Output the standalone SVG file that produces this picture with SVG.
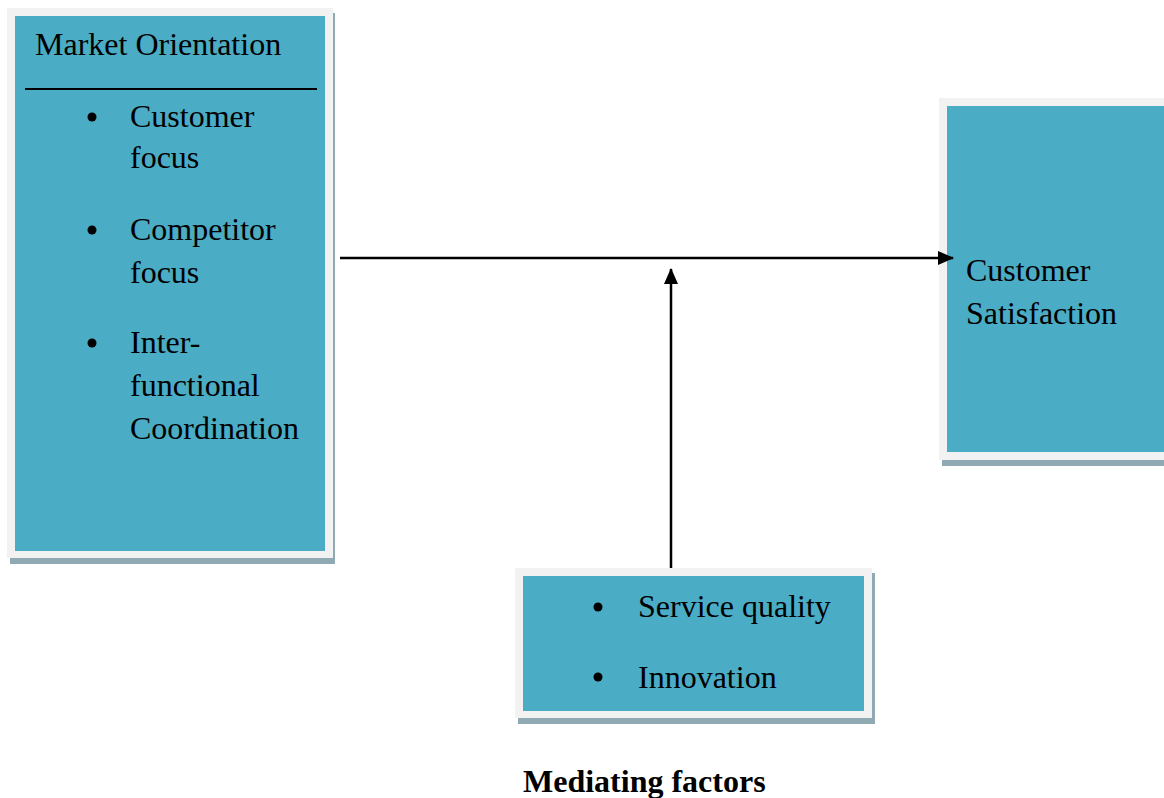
<svg xmlns="http://www.w3.org/2000/svg" width="1164" height="798" viewBox="0 0 1164 798">
<defs>
<style>
.shadow{fill:#8faab3}
.frame{fill:#f2f2f2}
.fill{fill:#4bacc6}
text{font-family:"Liberation Serif","Times New Roman",serif;font-size:32px;fill:#000}
.b{font-weight:bold}
.conn{stroke:#000;stroke-width:2.5;fill:none}
</style>
<marker id="ah2" markerWidth="16" markerHeight="14" refX="15" refY="7" orient="auto" markerUnits="userSpaceOnUse" viewBox="0 0 16 14">
<path d="M0,0 L16,7 L0,14 Z" fill="#000"/>
</marker>
</defs>
<rect width="1164" height="798" fill="#fff"/>
<g id="market-orientation">
<rect class="shadow" x="10" y="13" width="325" height="551"/>
<rect class="frame" x="7" y="8" width="326" height="550"/>
<rect class="fill" x="15" y="16" width="310" height="535"/>
<text x="35" y="55">Market Orientation</text>
<line x1="25" y1="89" x2="317" y2="89" stroke="#000" stroke-width="2"/>
<circle cx="92" cy="117" r="4.5"/>
<text x="130" y="127">Customer</text>
<text x="130" y="168">focus</text>
<circle cx="92" cy="230" r="4.5"/>
<text x="130" y="240">Competitor</text>
<text x="130" y="283">focus</text>
<circle cx="92" cy="343" r="4.5"/>
<text x="130" y="353">Inter-</text>
<text x="130" y="396">functional</text>
<text x="130" y="439">Coordination</text>
</g>
<g id="customer-satisfaction">
<rect class="shadow" x="942" y="103" width="230" height="363"/>
<rect class="frame" x="939" y="98" width="230" height="362"/>
<rect class="fill" x="947" y="106" width="220" height="346"/>
<text x="966" y="281">Customer</text>
<text x="966" y="324">Satisfaction</text>
</g>
<g id="mediating">
<rect class="shadow" x="518" y="573" width="357" height="151"/>
<rect class="frame" x="515" y="568" width="357" height="150"/>
<rect class="fill" x="523" y="576" width="341" height="135"/>
<circle cx="598" cy="607" r="4.5"/>
<text x="638" y="617">Service quality</text>
<circle cx="598" cy="677" r="4.5"/>
<text x="638" y="688">Innovation</text>
</g>
<text class="b" x="523" y="792">Mediating factors</text>
<g id="connectors">
<line class="conn" x1="340" y1="258" x2="953" y2="258" marker-end="url(#ah2)"/>
<line class="conn" x1="671" y1="568" x2="671" y2="269" marker-end="url(#ah2)"/>
</g>
</svg>
